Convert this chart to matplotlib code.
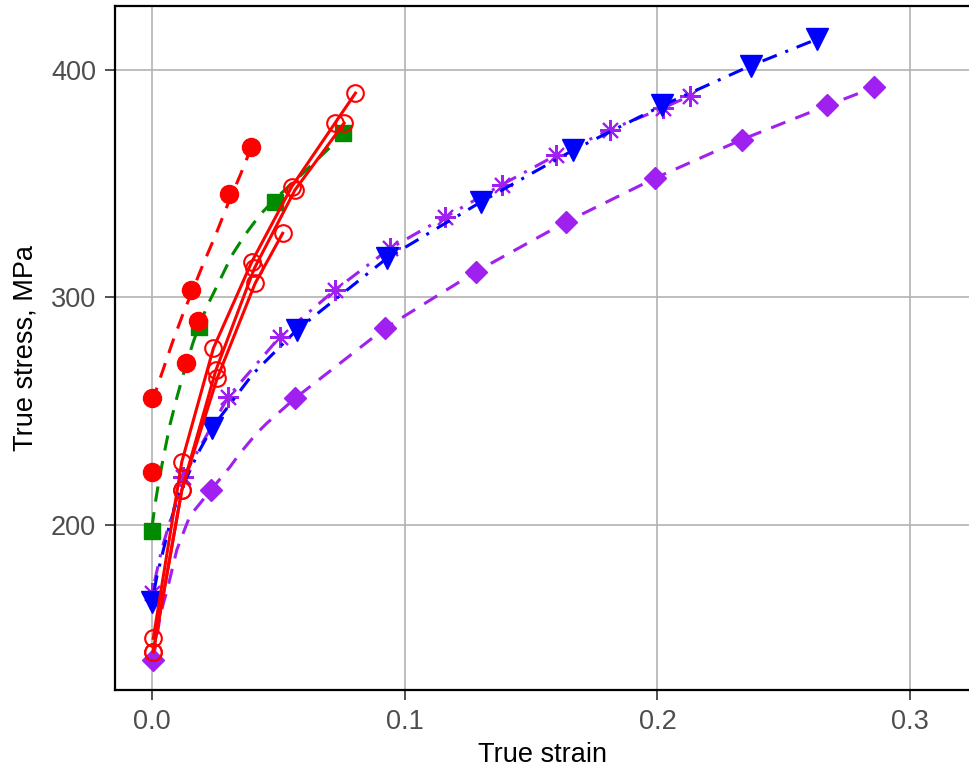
import matplotlib
matplotlib.use("Agg")
import matplotlib.pyplot as plt

plt.rcParams['font.family'] = ['Liberation Sans', 'DejaVu Sans']

# red filled circles (dashed fit line)
red_pts_x = [0.0, 0.0, 0.0135, 0.0154, 0.0182, 0.0305, 0.0392]
red_pts_y = [256.0, 223.3, 271.2, 303.3, 289.7, 345.5, 366.2]
red_fit_x = [0.0, 0.004, 0.008, 0.012, 0.016, 0.020, 0.025, 0.030, 0.035, 0.0388]
red_fit_y = [254, 267, 280, 292, 303, 314, 327, 341, 354, 364.5]

# green squares (dashed fit line)
green_pts_x = [0.0, 0.0186, 0.0487, 0.0757]
green_pts_y = [197.2, 287.0, 342.1, 372.2]
green_fit_x = [0.0, 0.0012, 0.0028, 0.0047, 0.0071, 0.0099, 0.0131, 0.0162, 0.0190,
               0.0230, 0.0269, 0.0317, 0.0368, 0.0427, 0.0487, 0.0586, 0.0665, 0.0756]
green_fit_y = [199, 209, 219.8, 230.8, 244.0, 256.3, 269.0, 280.0, 288.8,
               298.9, 307.7, 318.7, 327.5, 336.3, 343.3, 353.4, 361.8, 371.4]

# red open circles, three solid curves
open_a_x = [0.0005, 0.0118, 0.0243, 0.0395, 0.0553, 0.0724, 0.0805]
open_a_y = [150.2, 227.8, 277.7, 315.7, 348.7, 376.6, 389.8]
open_b_x = [0.0005, 0.0118, 0.0253, 0.0405, 0.0566, 0.0760]
open_b_y = [144.3, 215.4, 268.1, 312.8, 347.3, 376.6]
open_c_x = [0.0005, 0.0118, 0.0258, 0.0408, 0.0517]
open_c_y = [144.3, 215.4, 264.5, 306.2, 328.2]

# blue triangles (dot-dash line)
blue_pts_x = [0.0, 0.0236, 0.0573, 0.0929, 0.1302, 0.1664, 0.2020, 0.2370, 0.2633]
blue_pts_y = [166.0, 242.5, 285.7, 317.2, 342.0, 364.6, 384.4, 401.9, 413.6]
blue_fit_x = [0.0, 0.0019, 0.0032, 0.0058, 0.0071, 0.0105, 0.0182, 0.0236, 0.040,
              0.0573, 0.0929, 0.1302, 0.1664, 0.2020, 0.2370, 0.2633]
blue_fit_y = [166.0, 177.3, 183.2, 194.9, 200.7, 213.0, 231.6, 242.5, 266.5,
              285.7, 317.2, 342.0, 364.6, 384.4, 401.9, 413.6]

# purple asterisks (dot-dash line)
star_x = [0.0, 0.0124, 0.0302, 0.0507, 0.0724, 0.0942, 0.1161, 0.1385, 0.1597,
          0.1812, 0.2024, 0.2130]
star_y = [170.1, 221.2, 256.4, 282.8, 303.3, 321.6, 335.4, 349.6, 362.4,
          373.7, 383.3, 388.7]
star_fit_x = [0.0, 0.0040] + star_x[1:]
star_fit_y = [170.1, 190.0] + star_y[1:]

# purple diamonds (dashed line)
dia_x = [0.0005, 0.0233, 0.0566, 0.0922, 0.1281, 0.1639, 0.1992, 0.2334, 0.2673, 0.2859]
dia_y = [140.7, 215.4, 255.7, 286.5, 311.3, 333.2, 352.5, 369.4, 384.4, 392.4]
dia_fit_x = [0.0005, 0.0032, 0.0045, 0.0058, 0.0098, 0.0118, 0.0150, 0.0233, 0.0309,
             0.0348, 0.0414, 0.0454, 0.0566, 0.0922, 0.1281, 0.1639, 0.1992,
             0.2334, 0.2673, 0.2859]
dia_fit_y = [140.7, 159.7, 165.6, 170.5, 189.0, 194.9, 204.0, 215.4, 225.6,
             231.5, 240.3, 244.7, 255.7, 286.5, 311.3, 333.2, 352.5,
             369.4, 384.4, 392.4]

RED = '#ff0000'
GREEN = '#008b00'
BLUE = '#0000ff'
PURPLE = '#a020f0'
LW = 2.2
DASH = (5, 3.5)
DOTDASH = (1, 3, 5, 3)

fig = plt.figure(figsize=(9.69, 7.76), dpi=100)
ax = fig.add_axes([115/969, 86/776, 854/969, 684/776])

# purple diamonds
ax.plot(dia_fit_x, dia_fit_y, color=PURPLE, lw=LW, dashes=DASH, zorder=3)
ax.plot(dia_x, dia_y, ls='none', marker='D', ms=11, color=PURPLE, mec=PURPLE, zorder=4)

# purple asterisks
ax.plot(star_fit_x, star_fit_y, color=PURPLE, lw=LW, dashes=DOTDASH, zorder=3)
ax.plot(star_x, star_y, ls='none', marker=(8, 2, 0), ms=15, mew=1.5,
        color=PURPLE, zorder=4)

# blue triangles
ax.plot(blue_fit_x, blue_fit_y, color=BLUE, lw=LW, dashes=DOTDASH, zorder=5)
ax.plot(blue_pts_x, blue_pts_y, ls='none', marker='v', ms=16, color=BLUE,
        mec=BLUE, zorder=6)

# green squares
ax.plot(green_fit_x, green_fit_y, color=GREEN, lw=LW, dashes=DASH, zorder=5)
ax.plot(green_pts_x, green_pts_y, ls='none', marker='s', ms=12, color=GREEN,
        mec=GREEN, zorder=6)

# red filled circles
ax.plot(red_fit_x, red_fit_y, color=RED, lw=LW, dashes=DASH, zorder=5)
ax.plot(red_pts_x, red_pts_y, ls='none', marker='o', ms=13, color=RED,
        mec=RED, zorder=6)

# red open circles
for xs, ys in [(open_a_x, open_a_y), (open_b_x, open_b_y), (open_c_x, open_c_y)]:
    ax.plot(xs, ys, color=RED, lw=LW, marker='o', ms=12, mfc='none', mec=RED,
            mew=1.5, zorder=7)

ax.set_xlim(-0.01464, 0.3233)
ax.set_ylim(127.5, 428.1)
ax.set_xticks([0.0, 0.1, 0.2, 0.3])
ax.set_xticklabels(['0.0', '0.1', '0.2', '0.3'])
ax.set_yticks([200, 300, 400])

ax.grid(True, color='#b3b3b3', lw=1.2, zorder=0)
ax.set_axisbelow(True)
for side in ['left', 'bottom', 'top']:
    ax.spines[side].set_linewidth(1.6)
    ax.spines[side].set_color('black')
ax.spines['right'].set_visible(False)

ax.tick_params(axis='both', labelsize=19.5, labelcolor='#4d4d4d', color='#333333',
               length=7.5, width=1.2, pad=6)
ax.set_xlabel('True strain', fontsize=19.5, color='black', labelpad=5)
ax.set_ylabel('True stress, MPa', fontsize=19.5, color='black', labelpad=9)

fig.savefig('out.png', dpi=100)
